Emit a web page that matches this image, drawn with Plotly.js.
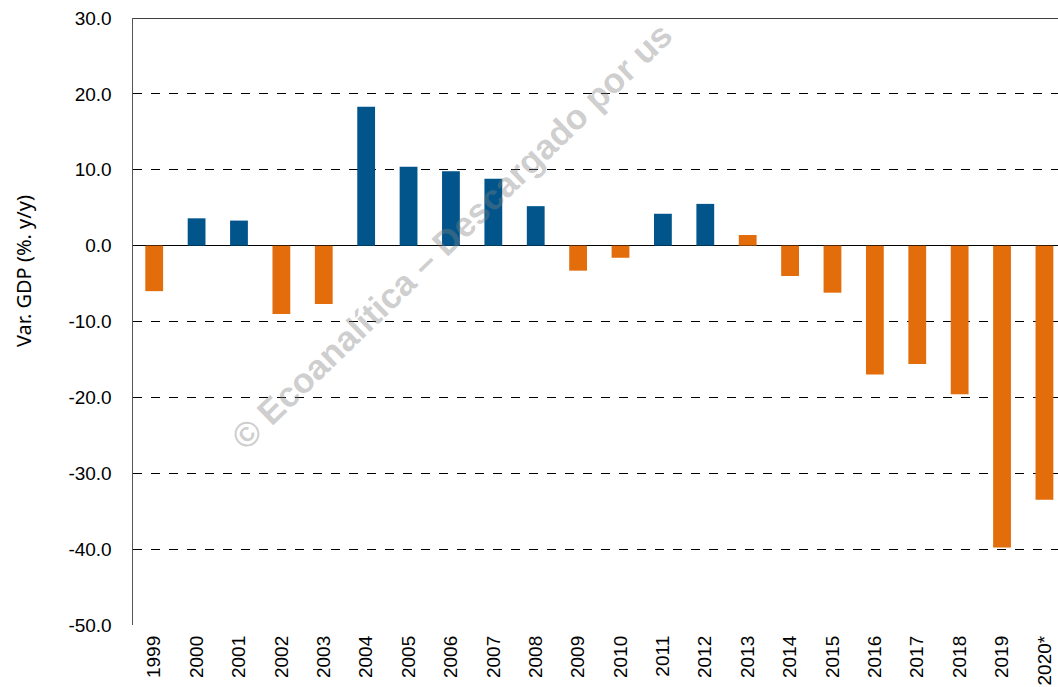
<!DOCTYPE html>
<html>
<head>
<meta charset="utf-8">
<script src="https://cdn.plot.ly/plotly-3.0.1.min.js"></script>
<style>html,body{margin:0;padding:0;background:#fff;}#chart{width:1058px;height:687px;}</style>
</head>
<body>
<div id="chart"></div>
<script>
const years = ["1999","2000","2001","2002","2003","2004","2005","2006","2007","2008","2009","2010","2011","2012","2013","2014","2015","2016","2017","2018","2019","2020*"];
const gdpVar = [-6.0, 3.6, 3.3, -9.0, -7.7, 18.3, 10.4, 9.8, 8.8, 5.2, -3.3, -1.6, 4.2, 5.5, 1.4, -4.0, -6.2, -17.0, -15.6, -19.6, -39.8, -33.5];
const yTicks = [30, 20, 10, 0, -10, -20, -30, -40, -50];

const BLUE = "#01558B";
const ORANGE = "#E36C0B";
const colors = gdpVar.map((v, i) => (v >= 0 && i !== 14) ? BLUE : ORANGE);

const trace = {
  type: "bar",
  x: years,
  y: gdpVar,
  marker: {color: colors, line: {width: 0}},
  width: 0.42,
  hoverinfo: "x+y"
};

const layout = {
  width: 1058, height: 687,
  margin: {l: 133, r: 0, t: 18, b: 62, pad: 0},
  paper_bgcolor: "#fff", plot_bgcolor: "#fff",
  showlegend: false,
  font: {family: "Liberation Sans, Arial, sans-serif", size: 19, color: "#000"},
  xaxis: {
    type: "category",
    range: [-0.5, 21.32],
    tickangle: -90,
    showgrid: false, zeroline: false, showline: false,
    ticks: "", tickfont: {size: 19}, ticklabelstandoff: 6, fixedrange: true
  },
  yaxis: {
    range: [-50, 30],
    tickvals: yTicks,
    ticktext: yTicks.map(v => v.toFixed(1)),
    showgrid: true, gridcolor: "#000", griddash: "dash", gridwidth: 1,
    zeroline: true, zerolinecolor: "#000", zerolinewidth: 1.5,
    showline: true, linecolor: "#555", linewidth: 1.5,
    ticks: "", ticklabelstandoff: 16,
    tickfont: {size: 19},
    fixedrange: true
  },
  shapes: [
    {type: "line", xref: "paper", yref: "y", x0: 0, x1: 1, y0: 30, y1: 30, line: {color: "#000", width: 1.5}}
  ],
  annotations: [
    {text: "Var. GDP (%. y/y)", xref: "paper", yref: "paper", x: -133/925, xanchor: "left", xshift: 8,
     y: 0.5, yshift: 50, showarrow: false, textangle: -90,
     font: {size: 20, family: "Noto Sans, Open Sans, sans-serif", color: "#000"}},
    {text: "<b>© Ecoanalítica – Descargado por us</b>", xref: "paper", yref: "paper",
     x: 0.345, y: 0.641, showarrow: false, textangle: -44,
     font: {size: 35, color: "rgba(128,128,128,0.4)", family: "Liberation Sans, Arial, sans-serif"}}
  ]
};

Plotly.newPlot("chart", [trace], layout, {displayModeBar: false, staticPlot: true});
</script>
</body>
</html>
